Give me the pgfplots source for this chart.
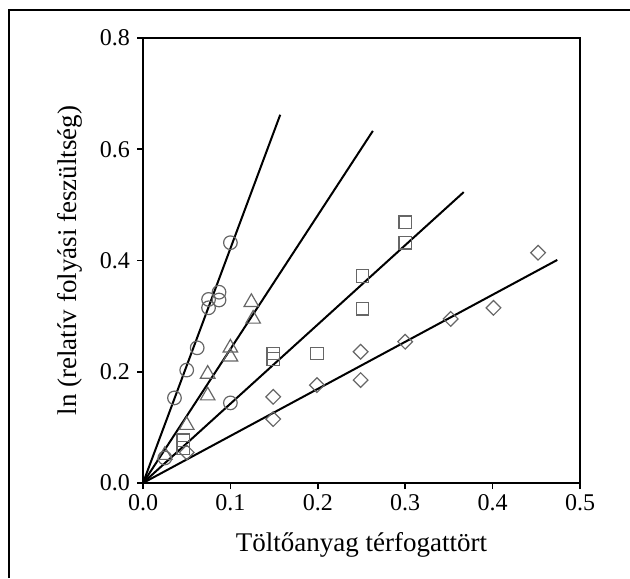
\documentclass[border=0pt]{standalone}
\usepackage{pgfplots}
\pgfplotsset{compat=1.18}
\usepackage{fontspec}
\setmainfont{Liberation Serif}
\begin{document}
\begin{tikzpicture}
\path[use as bounding box] (0,0) rectangle (315pt,289pt);
\draw[line width=1.3pt] (4.5pt,0) -- (4.5pt,284pt) -- (315pt,284pt);
\begin{axis}[
  at={(71.5pt,47.5pt)}, anchor=origin,
  scale only axis, width=218.5pt, height=222.5pt,
  xmin=0, xmax=0.5, ymin=0, ymax=0.8,
  xtick={0,0.1,0.2,0.3,0.4,0.5},
  ytick={0,0.2,0.4,0.6,0.8},
  tick pos=left, tick align=outside,
  major tick length=3pt,
  axis line style={line width=0.9pt},
  tick style={line width=0.8pt, black},
  xticklabel style={/pgf/number format/fixed, /pgf/number format/precision=1, /pgf/number format/fixed zerofill, yshift=1pt},
  yticklabel style={/pgf/number format/fixed, /pgf/number format/precision=1, /pgf/number format/fixed zerofill},
  /pgf/number format/assume math mode=true,
  tick label style={font=\fontsize{12}{14}\selectfont},
  label style={font=\fontsize{13.5}{16}\selectfont},
  xlabel={Töltőanyag térfogattört},
  ylabel={ln (relatív folyási feszültség)},
  xlabel style={at={(axis description cs:0.5,-0.139)}, anchor=center},
  ylabel style={at={(axis description cs:-0.167,0.5)}, anchor=center},
  clip=false,
]
% fitted lines
\addplot[black, line width=1pt] coordinates {(0,0) (0.157,0.662)};
\addplot[black, line width=1pt] coordinates {(0,0) (0.263,0.633)};
\addplot[black, line width=1pt] coordinates {(0,0) (0.367,0.523)};
\addplot[black, line width=1pt] coordinates {(0,0) (0.474,0.401)};
% circles
\addplot[only marks, mark=o, mark size=3.4pt, mark options={draw=black!60, line width=0.6pt}] coordinates {
(0.025,0.045) (0.036,0.153) (0.050,0.203) (0.062,0.243) (0.075,0.315) (0.075,0.330)
(0.087,0.343) (0.087,0.329) (0.100,0.432) (0.100,0.144)};
% triangles
\addplot[only marks, mark=triangle, mark size=4.2pt, mark options={draw=black!60, line width=0.6pt}] coordinates {
(0.025,0.050) (0.050,0.104) (0.074,0.157) (0.074,0.196) (0.100,0.243) (0.100,0.227)
(0.124,0.325) (0.126,0.295)};
% squares
\addplot[only marks, mark=square, mark size=3.1pt, mark options={draw=black!60, line width=0.6pt}] coordinates {
(0.046,0.077) (0.046,0.063) (0.149,0.233) (0.149,0.223) (0.199,0.233) (0.251,0.372)
(0.251,0.313) (0.300,0.469) (0.300,0.432)};
% diamonds
\addplot[only marks, mark=square, mark size=2.6pt, mark options={draw=black!60, line width=0.6pt, rotate=45}] coordinates {
(0.050,0.055) (0.149,0.155) (0.149,0.115) (0.199,0.176) (0.249,0.236) (0.249,0.185)
(0.300,0.254) (0.352,0.295) (0.401,0.315) (0.452,0.414)};
\end{axis}
\end{tikzpicture}
\end{document}
